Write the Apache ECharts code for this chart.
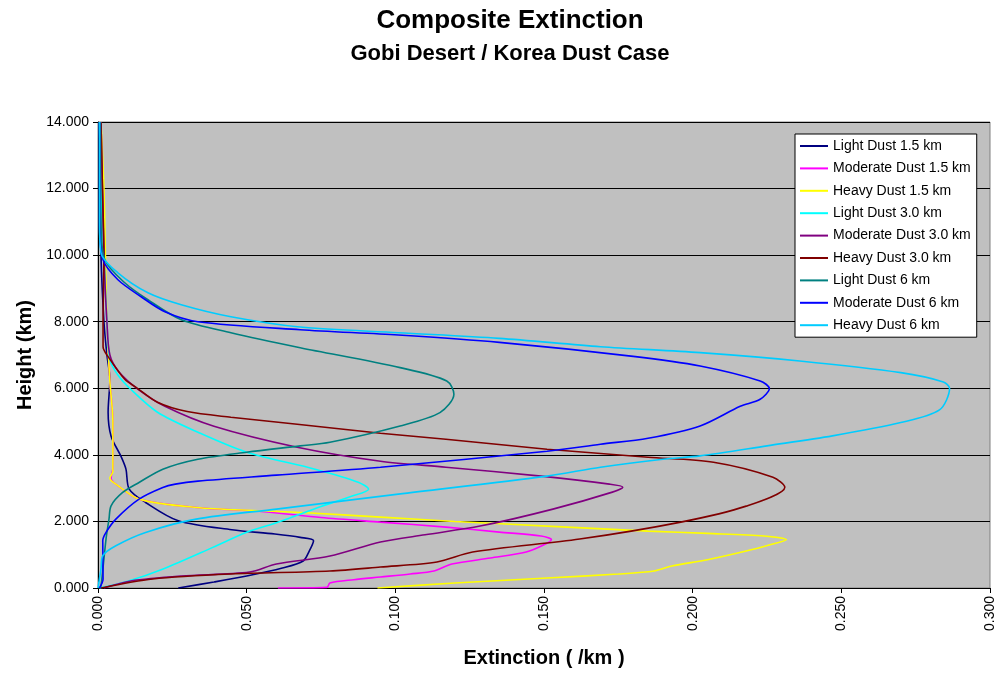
<!DOCTYPE html>
<html>
<head>
<meta charset="utf-8">
<script src="https://cdn.jsdelivr.net/npm/echarts@6/dist/echarts.min.js"></script>
<style>
  html, body { margin: 0; padding: 0; background: #fff; }
  #chart { width: 998px; height: 673px; }
</style>
</head>
<body>
<div id="chart"></div>
<script>
// [extinction (/km), height (km)] pairs bottom to top
const lightDust15 = [[0.027,0],[0.039,0.18],[0.050,0.36],[0.062,0.6],[0.069,0.81],[0.071,1.1],[0.0725,1.42],[0.068,1.52],[0.0595,1.62],[0.045,1.75],[0.027,2.02],[0.016,2.57],[0.0105,2.97],[0.0094,3.57],[0.0077,3.96],[0.0044,4.56],[0.0034,5.28],[0.004,6.27],[0.003,7],[0.002,8],[0.001,10],[0.0008,12],[0.0005,14]];
const moderateDust15 = [[0.0605,0],[0.077,0.02],[0.078,0.15],[0.086,0.25],[0.095,0.33],[0.105,0.42],[0.113,0.51],[0.119,0.72],[0.132,0.9],[0.144,1.08],[0.150,1.3],[0.1525,1.45],[0.149,1.56],[0.135,1.68],[0.117,1.83],[0.095,1.98],[0.075,2.12],[0.055,2.3],[0.033,2.42],[0.0138,2.67],[0.006,3.12],[0.0044,3.3],[0.005,3.6],[0.005,5],[0.004,6.2],[0.003,8],[0.002,10],[0.0015,12],[0.001,14]];
const heavyDust15 = [[0.094,0],[0.12,0.15],[0.151,0.3],[0.175,0.42],[0.187,0.51],[0.193,0.66],[0.205,0.85],[0.218,1.11],[0.226,1.3],[0.2315,1.45],[0.224,1.56],[0.205,1.64],[0.185,1.71],[0.151,1.86],[0.12,2.0],[0.095,2.13],[0.070,2.26],[0.055,2.32],[0.033,2.42],[0.0138,2.67],[0.006,3.12],[0.004,3.3],[0.005,3.5],[0.005,5],[0.004,6.2],[0.003,8],[0.0025,10],[0.002,12],[0.001,14]];
const lightDust30 = [[0.0005,0],[0.01,0.2],[0.0219,0.57],[0.0386,1.22],[0.0498,1.67],[0.060,1.96],[0.075,2.45],[0.085,2.75],[0.091,2.97],[0.0875,3.18],[0.073,3.57],[0.050,4.08],[0.0336,4.68],[0.020,5.28],[0.011,5.97],[0.0067,6.4],[0.004,6.86],[0.003,8],[0.002,10],[0.001,12],[0.0005,14]];
const moderateDust30 = [[0.002,0],[0.011,0.21],[0.028,0.36],[0.051,0.48],[0.060,0.72],[0.078,0.96],[0.095,1.38],[0.110,1.6],[0.1285,1.86],[0.153,2.37],[0.173,2.88],[0.1765,3.03],[0.172,3.12],[0.149,3.36],[0.117,3.63],[0.095,3.81],[0.067,4.23],[0.039,4.86],[0.0225,5.46],[0.0135,5.97],[0.007,6.5],[0.004,7],[0.003,8],[0.002,10],[0.0015,12],[0.001,14]];
const heavyDust30 = [[0.001,0],[0.0184,0.27],[0.0447,0.42],[0.078,0.51],[0.095,0.63],[0.114,0.78],[0.126,1.08],[0.162,1.47],[0.196,1.98],[0.218,2.46],[0.231,3.03],[0.227,3.33],[0.207,3.78],[0.185,3.93],[0.151,4.17],[0.117,4.47],[0.095,4.65],[0.067,4.92],[0.0447,5.13],[0.030,5.3],[0.020,5.58],[0.0128,6.03],[0.009,6.27],[0.0034,6.95],[0.0017,7.25],[0.0017,8.06],[0.002,10],[0.0015,12],[0.001,14]];
const lightDust6 = [[0.0005,0],[0.001,0.06],[0.0027,1.47],[0.0037,2.07],[0.0044,2.47],[0.0083,2.87],[0.0138,3.17],[0.0218,3.57],[0.0336,3.87],[0.050,4.08],[0.068,4.27],[0.078,4.38],[0.1016,4.87],[0.115,5.27],[0.1197,5.82],[0.1173,6.22],[0.1016,6.62],[0.068,7.22],[0.0447,7.67],[0.028,8.06],[0.0168,8.66],[0.009,9.17],[0.0023,9.86],[0.001,11],[0.0008,14]];
const moderateDust6 = [[0.0005,0],[0.0017,0.27],[0.0016,1.42],[0.0027,1.67],[0.006,2.07],[0.0138,2.67],[0.0218,3.02],[0.026,3.12],[0.0336,3.21],[0.060,3.39],[0.095,3.63],[0.151,4.11],[0.169,4.32],[0.185,4.5],[0.2025,4.87],[0.216,5.46],[0.2227,5.67],[0.2258,5.99],[0.2227,6.22],[0.2025,6.67],[0.180,6.96],[0.135,7.38],[0.101,7.6],[0.068,7.76],[0.0336,8.0],[0.0225,8.3],[0.0145,8.75],[0.0067,9.26],[0.0017,9.86],[0.0005,11],[0.0005,14]];
const heavyDust6 = [[0,0],[0.001,0.57],[0.0016,0.97],[0.006,1.27],[0.016,1.67],[0.033,2.07],[0.060,2.37],[0.101,2.82],[0.151,3.36],[0.169,3.63],[0.190,3.87],[0.2025,3.97],[0.225,4.27],[0.247,4.57],[0.27,4.97],[0.283,5.35],[0.2864,6.0],[0.2843,6.19],[0.27,6.47],[0.236,6.82],[0.2025,7.07],[0.169,7.25],[0.135,7.5],[0.101,7.67],[0.068,7.84],[0.0447,8.15],[0.028,8.51],[0.0168,8.87],[0.0067,9.47],[0.001,10.07],[0.0005,11],[0.0005,14]];

const seriesNames = [
  "Light Dust 1.5 km", "Moderate Dust 1.5 km", "Heavy Dust 1.5 km",
  "Light Dust 3.0 km", "Moderate Dust 3.0 km", "Heavy Dust 3.0 km",
  "Light Dust 6 km", "Moderate Dust 6 km", "Heavy Dust 6 km"
];
const seriesData = [lightDust15, moderateDust15, heavyDust15, lightDust30, moderateDust30, heavyDust30, lightDust6, moderateDust6, heavyDust6];
const seriesColors = ["#000080", "#FF00FF", "#FFFF00", "#00FFFF", "#800080", "#800000", "#008080", "#0000FF", "#00CCFF"];

const FONT = "'Liberation Sans', Arial, sans-serif";

const chart = echarts.init(document.getElementById("chart"));

chart.setOption({
  backgroundColor: "#ffffff",
  animation: false,
  graphic: [
    { type: "text", x: 510, y: 21, style: { text: "Composite Extinction", font: "bold 26px " + FONT, fill: "#000", textAlign: "center", textVerticalAlign: "middle" } },
    { type: "text", x: 510, y: 54, style: { text: "Gobi Desert / Korea Dust Case", font: "bold 22px " + FONT, fill: "#000", textAlign: "center", textVerticalAlign: "middle" } }
  ],
  grid: {
    left: 98, right: 8, top: 122, bottom: 84,
    show: true, backgroundColor: "#C0C0C0", borderColor: "#808080", borderWidth: 1
  },
  legend: {
    orient: "vertical",
    left: 795, top: 134,
    padding: [5, 6, 5, 5],
    icon: "rect",
    itemWidth: 28, itemHeight: 2, itemGap: 8.4,
    backgroundColor: "#ffffff", borderColor: "#000000", borderWidth: 1,
    textStyle: { fontFamily: FONT, fontSize: 14, color: "#000", lineHeight: 14 },
    data: seriesNames
  },
  xAxis: {
    type: "value", min: 0, max: 0.3, interval: 0.05,
    name: "Extinction ( /km )", nameLocation: "middle", nameGap: 60,
    nameTextStyle: { fontFamily: FONT, fontSize: 20, fontWeight: "bold", color: "#000" },
    axisLine: { show: true, onZero: false, lineStyle: { color: "#000", width: 1 } },
    axisTick: { show: true, length: 5, lineStyle: { color: "#000" } },
    axisLabel: { rotate: 90, margin: 8, fontFamily: FONT, fontSize: 14, color: "#000", formatter: v => v.toFixed(3) },
    splitLine: { show: false }
  },
  yAxis: {
    type: "value", min: 0, max: 14, interval: 2,
    name: "Height (km)", nameLocation: "middle", nameGap: 63, nameRotate: 90,
    nameTextStyle: { fontFamily: FONT, fontSize: 20, fontWeight: "bold", color: "#000" },
    axisLine: { show: true, onZero: false, lineStyle: { color: "#000", width: 1 } },
    axisTick: { show: true, length: 5, lineStyle: { color: "#000" } },
    axisLabel: { margin: 9, fontFamily: FONT, fontSize: 14, color: "#000", formatter: v => v.toFixed(3) },
    splitLine: { show: true, lineStyle: { color: "#000", width: 1 } }
  },
  series: seriesNames.map((name, i) => ({
    name: name,
    type: "line",
    data: seriesData[i],
    symbol: "none",
    smooth: 0.3,
    color: seriesColors[i],
    lineStyle: { color: seriesColors[i], width: 1.6 }
  }))
});
</script>
</body>
</html>
